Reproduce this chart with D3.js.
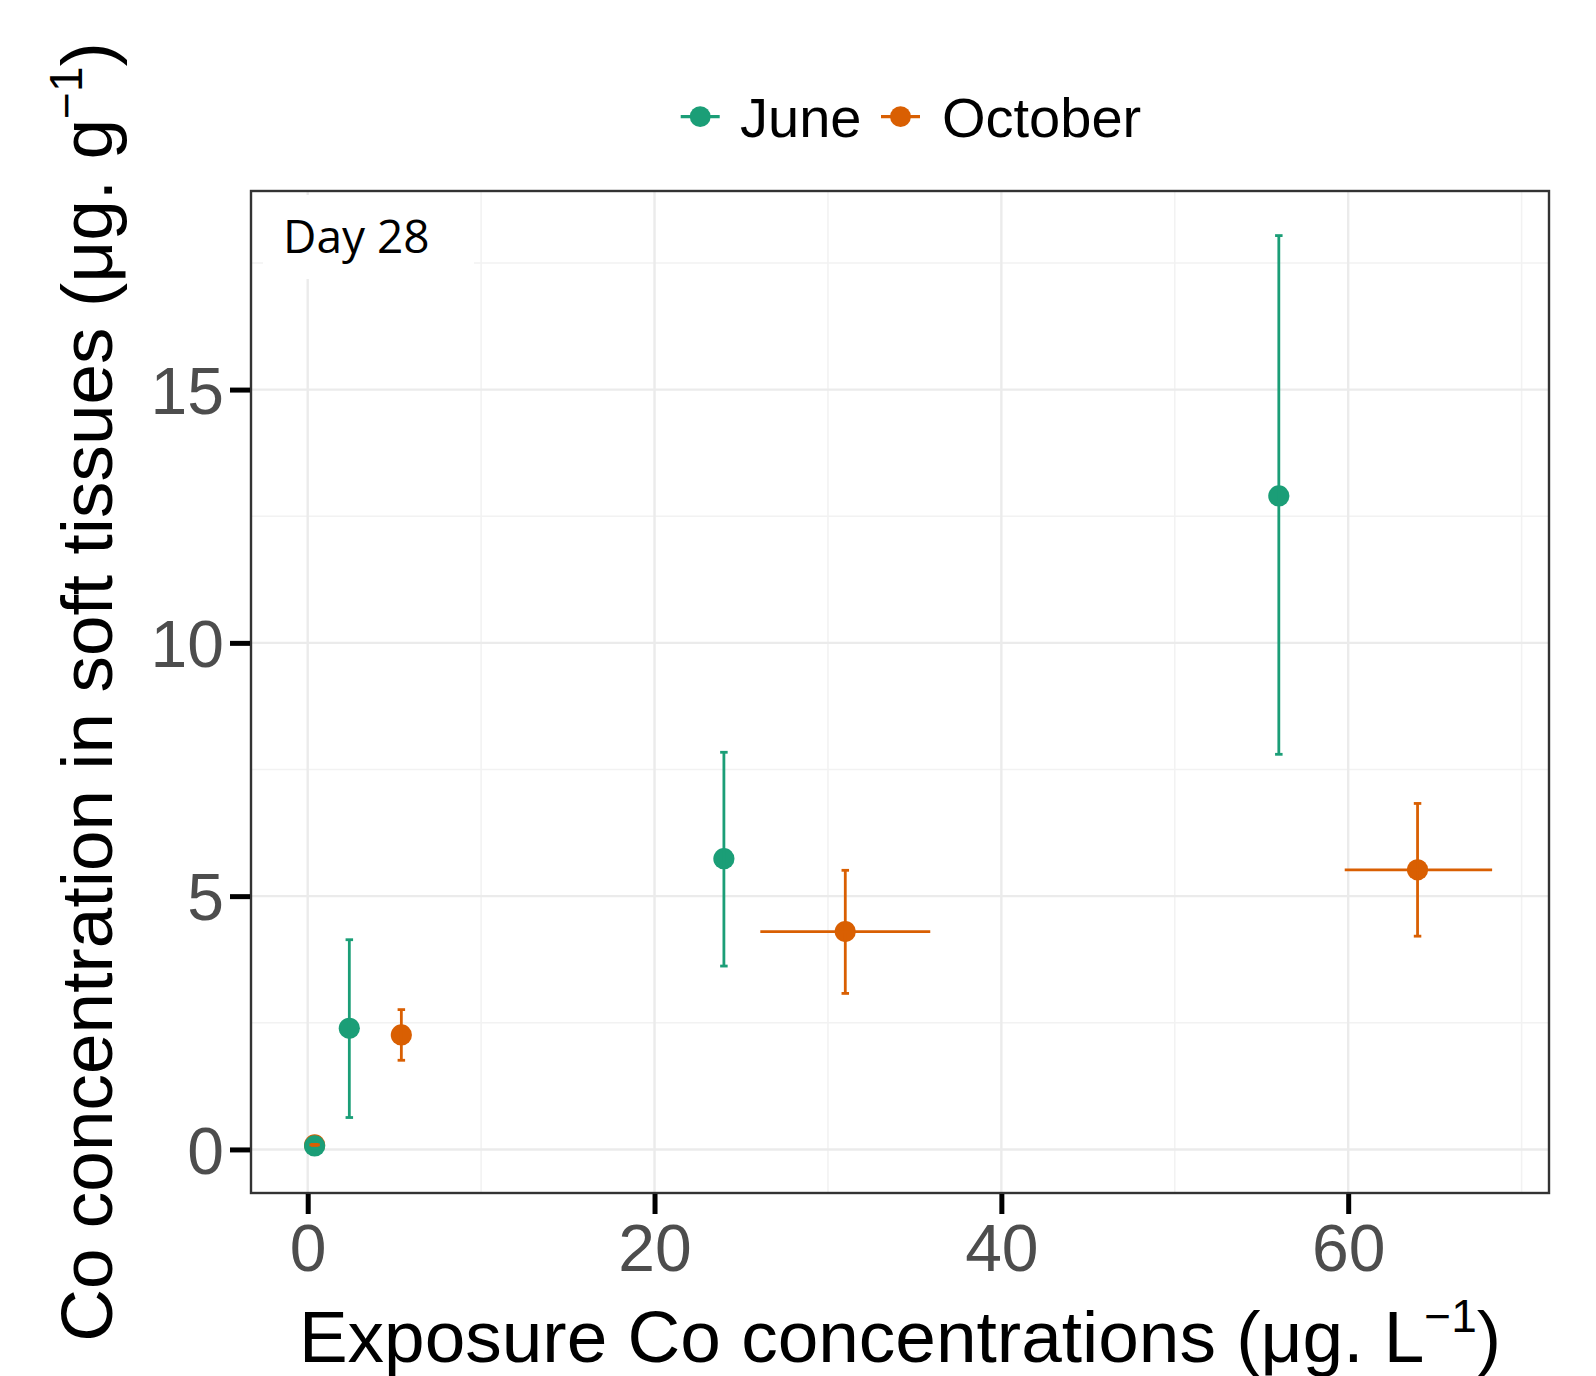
<!DOCTYPE html>
<html>
<head>
<meta charset="utf-8">
<script src="https://cdn.jsdelivr.net/npm/d3@7"></script>
<style>
html,body{margin:0;padding:0;background:#fff;}
svg{display:block;}
</style>
</head>
<body>
<script>
// ---- data ----
const seriesNames = ["June", "October"];
const seriesColors = ["#1B9E77", "#D95F02"];

const juneX    = [0.4, 2.4, 24.0, 56.0];
const juneY    = [0.07, 2.39, 5.74, 12.9];
const juneYmin = [0.03, 0.63, 3.62, 7.8];
const juneYmax = [0.12, 4.14, 7.84, 18.04];

const octX    = [0.4, 5.4, 31.0, 64.0];
const octY    = [0.09, 2.26, 4.30, 5.52];
const octYmin = [0.08, 1.76, 3.08, 4.21];
const octYmax = [0.10, 2.76, 5.51, 6.83];
const octXmin = [0.1, 5.4, 26.1, 59.8];
const octXmax = [0.7, 5.4, 35.9, 68.3];

const xTicks = [0, 20, 40, 60];
const xMinor = [10, 30, 50, 70];
const yTicks = [0, 5, 10, 15];
const yMinor = [2.5, 7.5, 12.5, 17.5];
const panelLabel = "Day 28";

// ---- layout ----
const W = 1596, H = 1376;
const P = {left: 251, right: 1549, top: 191, bottom: 1193};

const svg = d3.select("body").append("svg").attr("width", W).attr("height", H);

const x = d3.scaleLinear().domain([-3.27, 71.58]).range([P.left, P.right]);
const y = d3.scaleLinear().domain([-0.86, 18.92]).range([P.bottom, P.top]);

const g = svg.append("g");

// panel background
g.append("rect").attr("x", P.left).attr("y", P.top)
  .attr("width", P.right - P.left).attr("height", P.bottom - P.top).attr("fill", "#fff");

// minor grid
g.selectAll(".mx").data(xMinor.filter(v => x(v) < P.right)).enter().append("line")
  .attr("x1", d => x(d)).attr("x2", d => x(d)).attr("y1", P.top).attr("y2", P.bottom)
  .attr("stroke", "#F2F2F2").attr("stroke-width", 1.6);
g.selectAll(".my").data(yMinor).enter().append("line")
  .attr("y1", d => y(d)).attr("y2", d => y(d)).attr("x1", P.left).attr("x2", P.right)
  .attr("stroke", "#F2F2F2").attr("stroke-width", 1.6);
// major grid
g.selectAll(".gx").data(xTicks).enter().append("line")
  .attr("x1", d => x(d)).attr("x2", d => x(d)).attr("y1", P.top).attr("y2", P.bottom)
  .attr("stroke", "#EBEBEB").attr("stroke-width", 2.4);
g.selectAll(".gy").data(yTicks).enter().append("line")
  .attr("y1", d => y(d)).attr("y2", d => y(d)).attr("x1", P.left).attr("x2", P.right)
  .attr("stroke", "#EBEBEB").attr("stroke-width", 2.4);

// label box
g.append("rect").attr("x", 263).attr("y", 195).attr("width", 211).attr("height", 84).attr("fill", "#fff");
g.append("text").attr("x", 283).attr("y", 253).text(panelLabel)
  .attr("font-family", "'Open Sans', sans-serif").attr("font-size", 46).attr("fill", "#000");

// points
function pts(xs, ys, col) {
  g.append("g").selectAll("circle").data(xs.map((d, i) => [d, ys[i]])).enter().append("circle")
    .attr("cx", d => x(d[0])).attr("cy", d => y(d[1])).attr("r", 10.6).attr("fill", col);
}
pts(octX, octY, seriesColors[1]);
pts(juneX, juneY, seriesColors[0]);

// error bars
const capW = 7.5, lw = 2.8;
function vbars(xs, lo, hi, col) {
  const gg = g.append("g").attr("stroke", col).attr("stroke-width", lw).attr("fill", "none");
  xs.forEach((xv, i) => {
    gg.append("line").attr("x1", x(xv)).attr("x2", x(xv)).attr("y1", y(lo[i])).attr("y2", y(hi[i]));
    gg.append("line").attr("x1", x(xv) - capW / 2).attr("x2", x(xv) + capW / 2).attr("y1", y(lo[i])).attr("y2", y(lo[i]));
    gg.append("line").attr("x1", x(xv) - capW / 2).attr("x2", x(xv) + capW / 2).attr("y1", y(hi[i])).attr("y2", y(hi[i]));
  });
}
function hbars(ys, lo, hi, col) {
  const gg = g.append("g").attr("stroke", col).attr("stroke-width", lw).attr("fill", "none");
  ys.forEach((yv, i) => {
    gg.append("line").attr("x1", x(lo[i])).attr("x2", x(hi[i])).attr("y1", y(yv)).attr("y2", y(yv));
  });
}
vbars(juneX, juneYmin, juneYmax, seriesColors[0]);
vbars(octX, octYmin, octYmax, seriesColors[1]);
hbars(octY, octXmin, octXmax, seriesColors[1]);

// panel border
g.append("rect").attr("x", P.left).attr("y", P.top)
  .attr("width", P.right - P.left).attr("height", P.bottom - P.top)
  .attr("fill", "none").attr("stroke", "#333").attr("stroke-width", 2.4);

// axes
const xAxis = d3.axisBottom(x).tickValues(xTicks).tickSize(20).tickPadding(10).tickFormat(d3.format("d"));
const yAxis = d3.axisLeft(y).tickValues(yTicks).tickSize(20).tickPadding(6).tickFormat(d3.format("d"));
const gx = svg.append("g").attr("transform", `translate(0,${P.bottom + 1})`).call(xAxis);
const gy = svg.append("g").attr("transform", `translate(${P.left - 1},0)`).call(yAxis);
[gx, gy].forEach(a => {
  a.select(".domain").remove();
  a.selectAll(".tick line").attr("stroke", "#000").attr("stroke-width", 5);
  a.selectAll(".tick text").attr("font-family", "'Liberation Sans', Arial, sans-serif")
    .attr("font-size", 66).attr("fill", "#4D4D4D");
});
gy.selectAll(".tick text").attr("dy", "0.36em");

// axis titles
const ft = "'Liberation Sans', Arial, sans-serif";
const xt = svg.append("text").attr("x", (P.left + P.right) / 2).attr("y", 1361.7)
  .attr("text-anchor", "middle").attr("font-family", ft).attr("font-size", 73).attr("fill", "#000");
xt.append("tspan").text("Exposure Co concentrations (μg. L");
xt.append("tspan").text("−1").attr("font-size", 46).attr("dy", -30);
xt.append("tspan").text(")").attr("dy", 30);

const yt = svg.append("text")
  .attr("transform", `translate(111.7,${(P.top + P.bottom) / 2}) rotate(-90)`)
  .attr("text-anchor", "middle").attr("font-family", ft).attr("font-size", 73).attr("fill", "#000");
yt.append("tspan").text("Co concentration in soft tissues (μg. g");
yt.append("tspan").text("−1").attr("font-size", 46).attr("dy", -30);
yt.append("tspan").text(")").attr("dy", 30);

// legend
const leg = svg.append("g");
const legItems = [
  {name: seriesNames[0], col: seriesColors[0], x0: 680.7, tx: 740},
  {name: seriesNames[1], col: seriesColors[1], x0: 881, tx: 942}
];
legItems.forEach(it => {
  leg.append("line").attr("x1", it.x0).attr("x2", it.x0 + 39).attr("y1", 116.7).attr("y2", 116.7)
    .attr("stroke", it.col).attr("stroke-width", 3.2);
  leg.append("circle").attr("cx", it.x0 + 19.5).attr("cy", 116.7).attr("r", 10.4).attr("fill", it.col);
  leg.append("text").attr("x", it.tx).attr("y", 137).text(it.name)
    .attr("font-family", ft).attr("font-size", 56).attr("fill", "#000");
});
</script>
</body>
</html>
